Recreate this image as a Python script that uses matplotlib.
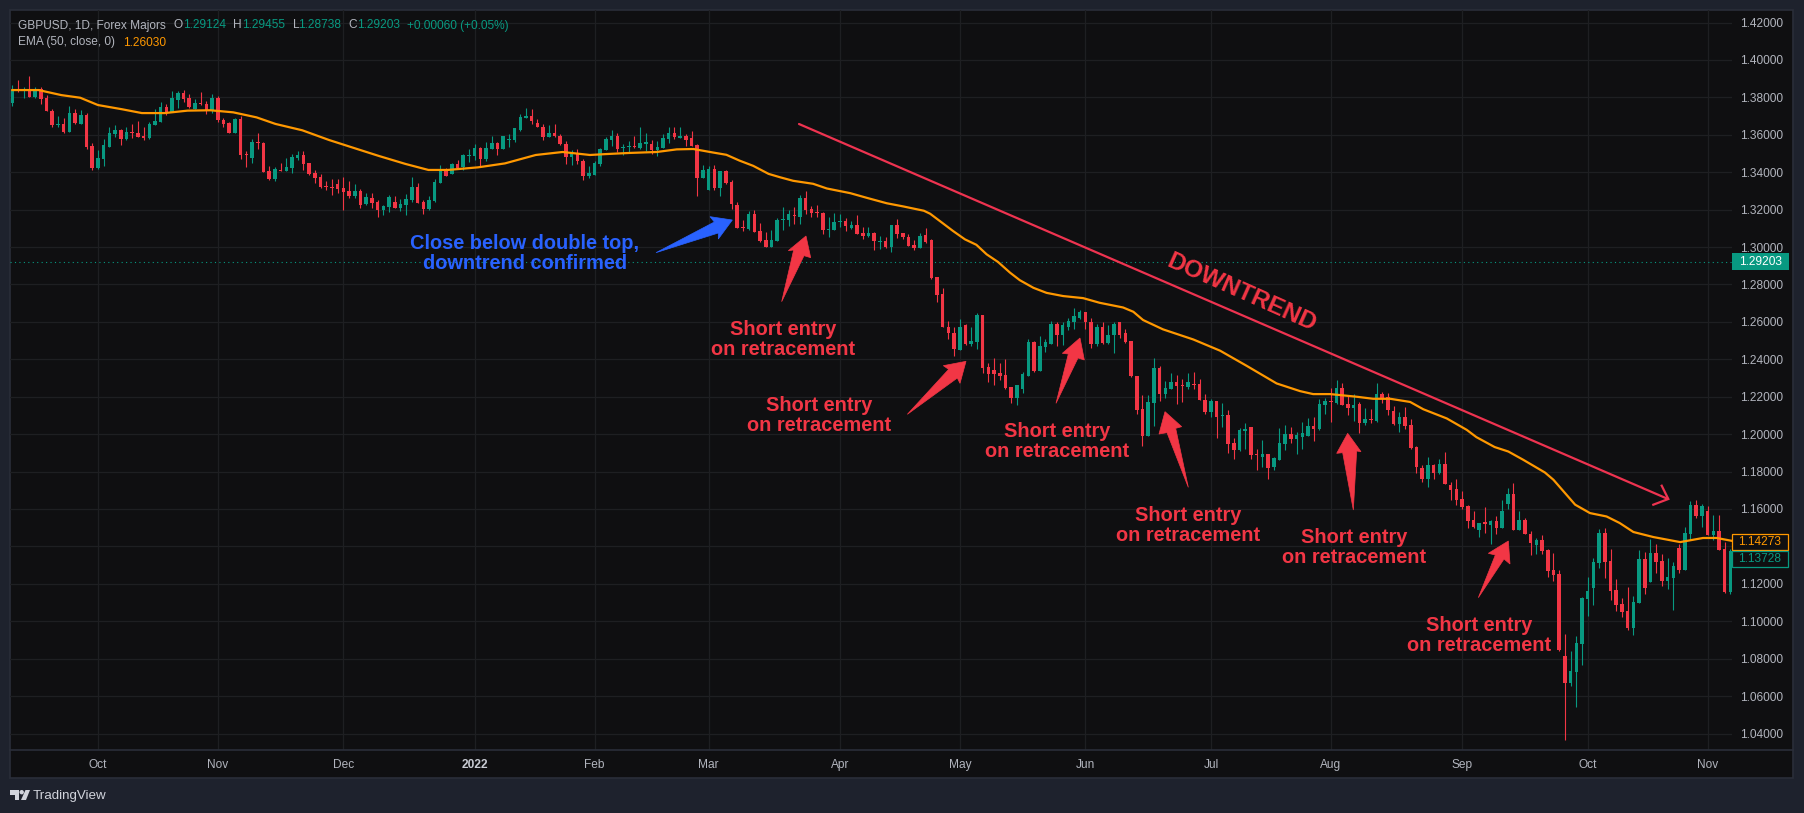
import numpy as np
import matplotlib
matplotlib.use("Agg")
import matplotlib.pyplot as plt
from matplotlib.patches import Polygon, Rectangle, Circle

plt.rcParams['font.family'] = ['Liberation Sans', 'DejaVu Sans']

# GBPUSD daily candles
opens = [
    1.3770,1.3845,1.3839,1.3841,1.3804,1.3845,1.3798,1.3729,1.3654,1.3659,
    1.3617,1.3718,1.3659,1.3707,1.3542,1.3424,1.3472,1.3537,1.3606,1.3627,
    1.3579,1.3617,1.3611,1.3595,1.3585,1.3654,1.3670,1.3750,1.3723,1.3788,
    1.3825,1.3798,1.3739,1.3772,1.3766,1.3734,1.3798,1.3677,1.3661,1.3607,
    1.3682,1.3495,1.3474,1.3559,1.3554,1.3404,1.3361,1.3410,1.3404,1.3420,
    1.3474,1.3490,1.3447,1.3394,1.3372,1.3324,1.3319,1.3335,1.3313,1.3297,
    1.3271,1.3297,1.3228,1.3260,1.3239,1.3196,1.3212,1.3239,1.3207,1.3223,
    1.3249,1.3319,1.3239,1.3201,1.3246,1.3342,1.3405,1.3389,1.3442,1.3427,
    1.3485,1.3485,1.3527,1.3469,1.3522,1.3554,1.3522,1.3570,1.3570,1.3628,
    1.3692,1.3703,1.3665,1.3644,1.3586,1.3612,1.3596,1.3549,1.3480,1.3496,
    1.3458,1.3379,1.3384,1.3442,1.3517,1.3570,1.3596,1.3527,1.3533,1.3538,
    1.3527,1.3549,1.3549,1.3517,1.3527,1.3575,1.3612,1.3581,1.3596,1.3581,
    1.3546,1.3370,1.3306,1.3418,1.3316,1.3407,1.3348,1.3226,1.3108,1.3097,
    1.3178,1.3087,1.3039,1.3001,1.3033,1.3145,1.3145,1.3172,1.3161,1.3263,
    1.3204,1.3188,1.3183,1.3092,1.3092,1.3135,1.3140,1.3103,1.3119,1.3076,
    1.3060,1.3076,1.3028,1.3033,1.3001,1.3119,1.3076,1.3055,1.3012,1.2996,
    1.3065,1.3036,1.2838,1.2747,1.2575,1.2543,1.2452,1.2581,1.2484,1.2495,
    1.2639,1.2361,1.2345,1.2329,1.2318,1.2254,1.2195,1.2243,1.2313,1.2495,
    1.2340,1.2468,1.2484,1.2591,1.2532,1.2575,1.2597,1.2623,1.2655,1.2602,
    1.2484,1.2575,1.2489,1.2532,1.2597,1.2538,1.2500,1.2313,1.2135,1.1990,
    1.2167,1.2355,1.2215,1.2242,1.2280,1.2263,1.2253,1.2269,1.2269,1.2183,
    1.2118,1.2178,1.2097,1.2102,1.1952,1.1914,1.2016,1.2038,1.1893,1.1877,
    1.1893,1.1823,1.1861,1.1947,1.2000,1.1974,1.1984,1.1990,1.2043,1.2027,
    1.2156,1.2175,1.2165,1.2244,1.2159,1.2138,1.2159,1.2058,1.2080,1.2069,
    1.2212,1.2196,1.2122,1.2053,1.2090,1.2048,1.1931,1.1819,1.1761,1.1835,
    1.1793,1.1841,1.1729,1.1708,1.1655,1.1618,1.1543,1.1485,1.1527,1.1517,
    1.1538,1.1501,1.1628,1.1681,1.1490,1.1543,1.1468,1.1409,1.1436,1.1382,
    1.1275,1.1254,1.0815,1.0670,1.0729,1.0879,1.1120,1.1179,1.1313,1.1473,
    1.1323,1.1168,1.1093,1.1056,1.0965,1.1098,1.1334,1.1211,1.1366,1.1323,
    1.1216,1.1232,1.1393,1.1275,1.1468,1.1623,1.1564,1.1591,1.1463,1.1484,
    1.1388,1.1157,
]
highs = [
    1.3868,1.3894,1.3855,1.3916,1.3855,1.3855,1.3814,1.3738,1.3699,1.3691,
    1.3755,1.3736,1.3734,1.3718,1.3558,1.3521,1.3579,1.3643,1.3654,1.3631,
    1.3643,1.3659,1.3675,1.3643,1.3670,1.3739,1.3777,1.3766,1.3836,1.3836,
    1.3841,1.3820,1.3793,1.3830,1.3782,1.3820,1.3809,1.3691,1.3666,1.3691,
    1.3698,1.3511,1.3580,1.3607,1.3559,1.3431,1.3426,1.3447,1.3474,1.3495,
    1.3511,1.3511,1.3447,1.3410,1.3388,1.3351,1.3361,1.3361,1.3372,1.3351,
    1.3335,1.3308,1.3287,1.3287,1.3249,1.3223,1.3276,1.3271,1.3255,1.3281,
    1.3372,1.3340,1.3249,1.3271,1.3363,1.3437,1.3421,1.3448,1.3464,1.3496,
    1.3522,1.3549,1.3533,1.3559,1.3596,1.3559,1.3596,1.3602,1.3634,1.3713,
    1.3745,1.3740,1.3687,1.3660,1.3650,1.3660,1.3602,1.3565,1.3517,1.3522,
    1.3469,1.3432,1.3458,1.3527,1.3586,1.3628,1.3612,1.3549,1.3565,1.3591,
    1.3644,1.3607,1.3570,1.3565,1.3602,1.3639,1.3644,1.3639,1.3602,1.3618,
    1.3551,1.3439,1.3434,1.3439,1.3407,1.3412,1.3359,1.3242,1.3145,1.3194,
    1.3199,1.3129,1.3081,1.3092,1.3156,1.3215,1.3199,1.3215,1.3279,1.3300,
    1.3220,1.3226,1.3188,1.3161,1.3183,1.3178,1.3156,1.3140,1.3172,1.3108,
    1.3108,1.3081,1.3060,1.3055,1.3119,1.3151,1.3076,1.3071,1.3039,1.3076,
    1.3103,1.3041,1.2838,1.2779,1.2607,1.2575,1.2618,1.2586,1.2570,1.2645,
    1.2639,1.2382,1.2409,1.2382,1.2404,1.2254,1.2265,1.2334,1.2506,1.2500,
    1.2527,1.2506,1.2607,1.2602,1.2597,1.2623,1.2672,1.2666,1.2655,1.2623,
    1.2591,1.2597,1.2581,1.2602,1.2602,1.2564,1.2500,1.2313,1.2210,1.2210,
    1.2408,1.2366,1.2285,1.2328,1.2317,1.2296,1.2328,1.2333,1.2296,1.2215,
    1.2188,1.2178,1.2167,1.2129,1.1979,1.2033,1.2059,1.2038,1.1920,1.1968,
    1.1893,1.1877,1.2033,1.2049,1.2038,1.2011,1.2065,1.2086,1.2092,1.2188,
    1.2194,1.2244,1.2292,1.2276,1.2207,1.2212,1.2170,1.2138,1.2133,1.2276,
    1.2223,1.2218,1.2149,1.2117,1.2143,1.2080,1.1936,1.1835,1.1878,1.1841,
    1.1867,1.1904,1.1745,1.1761,1.1697,1.1623,1.1591,1.1527,1.1612,1.1543,
    1.1565,1.1650,1.1713,1.1740,1.1591,1.1554,1.1482,1.1446,1.1463,1.1388,
    1.1366,1.1275,1.0932,1.0841,1.0922,1.1131,1.1238,1.1339,1.1495,1.1500,
    1.1388,1.1227,1.1125,1.1184,1.1136,1.1382,1.1372,1.1441,1.1414,1.1361,
    1.1339,1.1318,1.1414,1.1505,1.1645,1.1650,1.1629,1.1618,1.1570,1.1570,
    1.1425,1.1388,
]
lows = [
    1.3755,1.3828,1.3798,1.3804,1.3798,1.3766,1.3729,1.3643,1.3643,1.3611,
    1.3617,1.3659,1.3659,1.3526,1.3414,1.3419,1.3435,1.3537,1.3590,1.3547,
    1.3574,1.3585,1.3590,1.3574,1.3579,1.3654,1.3670,1.3707,1.3723,1.3745,
    1.3777,1.3745,1.3739,1.3761,1.3713,1.3718,1.3670,1.3641,1.3607,1.3607,
    1.3468,1.3426,1.3447,1.3522,1.3399,1.3356,1.3351,1.3404,1.3404,1.3394,
    1.3463,1.3410,1.3383,1.3340,1.3313,1.3303,1.3276,1.3287,1.3196,1.3260,
    1.3260,1.3207,1.3223,1.3207,1.3159,1.3169,1.3185,1.3207,1.3191,1.3169,
    1.3239,1.3233,1.3175,1.3196,1.3241,1.3342,1.3379,1.3389,1.3416,1.3411,
    1.3453,1.3464,1.3432,1.3458,1.3522,1.3490,1.3522,1.3533,1.3559,1.3618,
    1.3692,1.3655,1.3639,1.3570,1.3586,1.3586,1.3543,1.3442,1.3437,1.3442,
    1.3358,1.3368,1.3384,1.3432,1.3517,1.3538,1.3506,1.3490,1.3506,1.3527,
    1.3522,1.3512,1.3496,1.3485,1.3527,1.3554,1.3575,1.3581,1.3538,1.3538,
    1.3274,1.3370,1.3306,1.3306,1.3274,1.3338,1.3204,1.3103,1.3087,1.3092,
    1.3081,1.3028,1.3001,1.3001,1.3033,1.3092,1.3113,1.3124,1.3124,1.3178,
    1.3161,1.3161,1.3071,1.3055,1.3092,1.3108,1.3087,1.3097,1.3071,1.3044,
    1.3055,1.2985,1.2991,1.2996,1.2975,1.3049,1.3044,1.3007,1.2985,1.2996,
    1.3023,1.2827,1.2704,1.2570,1.2506,1.2415,1.2452,1.2479,1.2473,1.2457,
    1.2329,1.2281,1.2265,1.2291,1.2243,1.2168,1.2157,1.2222,1.2313,1.2334,
    1.2340,1.2441,1.2484,1.2473,1.2479,1.2554,1.2564,1.2618,1.2564,1.2463,
    1.2473,1.2484,1.2484,1.2436,1.2516,1.2489,1.2307,1.2109,1.1936,1.1990,
    1.2043,1.2178,1.2194,1.2242,1.2161,1.2172,1.2242,1.2242,1.2183,1.2108,
    1.2092,1.1979,1.2038,1.1898,1.1866,1.1909,1.1920,1.1866,1.1807,1.1823,
    1.1759,1.1807,1.1861,1.1914,1.1952,1.1893,1.1920,1.1990,1.1963,1.2022,
    1.2108,1.2064,1.2159,1.2154,1.2101,1.2069,1.2005,1.2048,1.2058,1.2064,
    1.2165,1.2101,1.2048,1.2011,1.2027,1.1920,1.1793,1.1745,1.1719,1.1761,
    1.1788,1.1734,1.1650,1.1623,1.1602,1.1501,1.1501,1.1448,1.1474,1.1411,
    1.1464,1.1501,1.1602,1.1490,1.1485,1.1464,1.1355,1.1361,1.1361,1.1238,
    1.1216,1.0841,1.0365,1.0654,1.0542,1.0766,1.1029,1.1088,1.1286,1.1232,
    1.1114,1.1056,1.1023,1.0954,1.0927,1.1098,1.1147,1.1211,1.1259,1.1189,
    1.1173,1.1061,1.1259,1.1275,1.1436,1.1554,1.1505,1.1463,1.1436,1.1382,
    1.1152,1.1147,
]
closes = [
    1.3837,1.3832,1.3841,1.3804,1.3846,1.3793,1.3729,1.3654,1.3659,1.3617,
    1.3718,1.3663,1.3707,1.3535,1.3424,1.3478,1.3547,1.3611,1.3627,1.3579,
    1.3617,1.3611,1.3590,1.3585,1.3659,1.3675,1.3750,1.3718,1.3798,1.3825,
    1.3793,1.3750,1.3772,1.3766,1.3734,1.3798,1.3681,1.3655,1.3607,1.3682,
    1.3490,1.3490,1.3559,1.3554,1.3399,1.3361,1.3415,1.3404,1.3426,1.3479,
    1.3490,1.3442,1.3388,1.3367,1.3319,1.3319,1.3313,1.3308,1.3292,1.3271,
    1.3297,1.3223,1.3265,1.3233,1.3196,1.3217,1.3265,1.3207,1.3228,1.3255,
    1.3319,1.3233,1.3201,1.3249,1.3347,1.3411,1.3379,1.3442,1.3421,1.3490,
    1.3490,1.3527,1.3469,1.3527,1.3554,1.3522,1.3591,1.3575,1.3634,1.3697,
    1.3703,1.3671,1.3639,1.3586,1.3612,1.3591,1.3549,1.3480,1.3496,1.3458,
    1.3379,1.3395,1.3448,1.3522,1.3575,1.3596,1.3522,1.3533,1.3538,1.3533,
    1.3554,1.3559,1.3517,1.3533,1.3581,1.3612,1.3586,1.3596,1.3570,1.3538,
    1.3370,1.3412,1.3418,1.3316,1.3407,1.3343,1.3231,1.3103,1.3103,1.3178,
    1.3081,1.3033,1.3001,1.3039,1.3145,1.3151,1.3178,1.3167,1.3263,1.3199,
    1.3183,1.3183,1.3092,1.3097,1.3135,1.3140,1.3113,1.3119,1.3071,1.3060,
    1.3076,1.3033,1.3033,1.3001,1.3119,1.3071,1.3055,1.3007,1.2996,1.3060,
    1.3028,1.2832,1.2741,1.2570,1.2538,1.2457,1.2575,1.2484,1.2500,1.2639,
    1.2356,1.2323,1.2323,1.2313,1.2249,1.2195,1.2265,1.2323,1.2495,1.2340,
    1.2473,1.2495,1.2591,1.2532,1.2581,1.2607,1.2629,1.2655,1.2597,1.2484,
    1.2575,1.2489,1.2532,1.2591,1.2532,1.2495,1.2313,1.2131,1.1990,1.2172,
    1.2355,1.2215,1.2247,1.2280,1.2258,1.2258,1.2280,1.2263,1.2183,1.2118,
    1.2178,1.2092,1.2102,1.1947,1.1914,1.2022,1.2027,1.1888,1.1888,1.1893,
    1.1818,1.1871,1.1952,1.2000,1.1974,1.1995,1.2006,1.2043,1.2027,1.2161,
    1.2178,1.2170,1.2244,1.2154,1.2138,1.2154,1.2058,1.2080,1.2074,1.2212,
    1.2186,1.2127,1.2053,1.2090,1.2042,1.1926,1.1825,1.1761,1.1835,1.1793,
    1.1841,1.1734,1.1703,1.1650,1.1612,1.1538,1.1506,1.1527,1.1522,1.1538,
    1.1501,1.1591,1.1681,1.1490,1.1543,1.1464,1.1420,1.1436,1.1377,1.1270,
    1.1248,1.0847,1.0670,1.0734,1.0884,1.1125,1.1163,1.1318,1.1473,1.1318,
    1.1163,1.1088,1.1050,1.0965,1.1104,1.1334,1.1179,1.1366,1.1318,1.1216,
    1.1238,1.1297,1.1275,1.1473,1.1623,1.1564,1.1618,1.1463,1.1484,1.1382,
    1.1157,1.1377,
]

# EMA 50 read at intervals along the orange line
ema_bars = [
    0, 4.6, 8.6, 11.9, 15, 19.3, 22.7, 26.7, 30.7, 34.7, 38.7, 42.8, 46.1, 50.8,
    55.5, 60.2, 64.2, 68.9, 72.9, 76.3, 81.6, 86.3, 91.7, 96.4, 101.2, 104.1,
    108.2, 112.9, 116.4, 119.3, 122.8, 125.1, 127.4, 129.8, 132.5, 134.5, 136.8,
    140.3, 142.7, 146.8, 149.7, 153.2, 156.1, 159.7, 160.8, 162.5, 164.8, 166.9,
    168.9, 170.7, 172.7, 174.8, 176.5, 178.9, 181.2, 184.1, 187.6, 190.5, 194.6,
    196.4, 198.1, 201.6, 206.9, 211.6, 216.2, 221.5, 225.6, 227.9, 230.9, 235.5,
    238.4, 241.4, 244.9, 247.2, 251.3, 254.8, 256.5, 259.7, 262.1, 264.7, 268.5,
    270, 273.8, 276.4, 279.3, 281.6, 284, 287.5, 292.2, 296.2, 298.6, 301.2,
]
ema_values = [
    1.3839, 1.3839, 1.3812, 1.3798, 1.3759, 1.3736, 1.3716, 1.3716, 1.3729, 1.3731,
    1.3720, 1.3693, 1.3658, 1.3624, 1.3572, 1.3526, 1.3487, 1.3444, 1.3412, 1.3412,
    1.3426, 1.3447, 1.3492, 1.3508, 1.3492, 1.3497, 1.3503, 1.3508, 1.3522, 1.3524,
    1.3505, 1.3493, 1.3462, 1.3434, 1.3391, 1.3373, 1.3354, 1.3338, 1.3313, 1.3288,
    1.3263, 1.3234, 1.3217, 1.3194, 1.3178, 1.3139, 1.3086, 1.3041, 1.3012, 1.2961,
    1.2920, 1.2863, 1.2823, 1.2782, 1.2755, 1.2738, 1.2727, 1.2702, 1.2677, 1.2654,
    1.2610, 1.2560, 1.2506, 1.2446, 1.2366, 1.2271, 1.2230, 1.2214, 1.2214, 1.2200,
    1.2189, 1.2189, 1.2172, 1.2133, 1.2084, 1.2023, 1.1984, 1.1931, 1.1907, 1.1863,
    1.1795, 1.1756, 1.1623, 1.1578, 1.1560, 1.1525, 1.1477, 1.1450, 1.1423, 1.1445,
    1.1445, 1.1430,
]

price_ticks = [1.04, 1.06, 1.08, 1.10, 1.12, 1.14, 1.16, 1.18, 1.20, 1.22,
               1.24, 1.26, 1.28, 1.30, 1.32, 1.34, 1.36, 1.38, 1.40, 1.42]
month_bars = [15, 36, 58, 81, 102, 122, 145, 166, 188, 210, 231, 254, 276, 297]
month_labels = ['Oct', 'Nov', 'Dec', '2022', 'Feb', 'Mar', 'Apr', 'May', 'Jun',
                'Jul', 'Aug', 'Sep', 'Oct', 'Nov']

last_price = 1.29203
ema_last = 1.14273
close_last = 1.13728

# colours
PAGE = '#1e222d'
PANEL = '#0f0f11'
BORDER = '#2a2e39'
GRID = '#1e1f22'
UP = '#089981'
DOWN = '#f23645'
EMA = '#ff9800'
BLUE = '#2962ff'
AXTEXT = '#b2b5be'

W, H = 1804, 813
fig = plt.figure(figsize=(W / 100, H / 100), dpi=100, facecolor=PAGE)

# panel behind everything, pixel coordinates
bg = fig.add_axes([0, 0, 1, 1], zorder=0)
bg.set_xlim(0, W)
bg.set_ylim(H, 0)
bg.axis('off')
bg.add_patch(Rectangle((10, 10), 1783, 768, fc=PANEL, ec=BORDER, lw=1.2))

ax = fig.add_axes([10 / W, (H - 750) / H, 1722 / W, 740 / H], zorder=1)
ax.patch.set_alpha(0)
ax.set_xlim(-0.403, 301.28)
ax.set_ylim(1.04 - 16.5 / 1871, 1.04 + 723.5 / 1871)
for s in ax.spines.values():
    s.set_visible(False)

# 1.14000 sits under the EMA price tag in the original, so no label there
ax.set_yticks(price_ticks)
ax.set_yticklabels(['' if p == 1.14 else f'{p:.5f}' for p in price_ticks], fontsize=8.6, color=AXTEXT)
ax.yaxis.tick_right()
ax.set_xticks(month_bars)
ax.set_xticklabels(month_labels, fontsize=8.6, color=AXTEXT)
ax.get_xticklabels()[3].set_fontweight('bold')
ax.get_xticklabels()[3].set_color('#c8cbd3')
ax.tick_params(axis='both', length=0)
ax.tick_params(axis='y', pad=5.8)
ax.tick_params(axis='x', pad=6.4)
ax.grid(True, color=GRID, lw=0.9)
ax.set_axisbelow(True)

# candles
bars = np.arange(len(opens))
o = np.array(opens)
h = np.array(highs)
l = np.array(lows)
c = np.array(closes)
up = c >= o
colors = np.where(up, UP, DOWN)
ax.vlines(bars, l, h, colors=colors, lw=0.8, zorder=3)
heights = np.maximum(np.abs(c - o), 0.0006)
ax.bar(bars, heights, bottom=np.minimum(o, c), width=0.62, color=colors, lw=0, zorder=3)

ax.plot(ema_bars, ema_values, color=EMA, lw=1.6, zorder=4, solid_joinstyle='round')
ax.axhline(last_price, color=UP, lw=0.8, ls=(0, (1, 3)), zorder=2)

# everything drawn on top of the chart, pixel coordinates again
top = fig.add_axes([0, 0, 1, 1], zorder=2)
top.set_xlim(0, W)
top.set_ylim(H, 0)
top.axis('off')
top.plot([10, 1793], [750, 750], color=BORDER, lw=1.2)


def price_y(p):
    return 733.5 - (p - 1.04) * 1871


# price labels on the right
top.add_patch(Rectangle((1732, price_y(last_price) - 8.5), 57, 17, fc=UP, ec='none'))
top.text(1760.5, price_y(last_price), f'{last_price:.5f}', color='white', fontsize=8.6,
         ha='center', va='center')
top.add_patch(Rectangle((1732, 533.5), 56, 16, fc=PANEL, ec=EMA, lw=0.9))
top.text(1760, 541.5, f'{ema_last:.5f}', color=EMA, fontsize=8.6, ha='center', va='center')
top.add_patch(Rectangle((1732, 551), 56, 16, fc=PANEL, ec=UP, lw=0.9))
top.text(1760, 559, f'{close_last:.5f}', color=UP, fontsize=8.6, ha='center', va='center')

# header legend
head = [(18, 'GBPUSD, 1D, Forex Majors', AXTEXT), (174, 'O', AXTEXT), (183.5, '1.29124', UP),
        (233.5, 'H', AXTEXT), (242.5, '1.29455', UP), (292.5, 'L', AXTEXT), (298.5, '1.28738', UP),
        (348.5, 'C', AXTEXT), (357.5, '1.29203', UP), (407, '+0.00060 (+0.05%)', UP)]
for x, txt, col in head:
    top.text(x, 25.5, txt, color=col, fontsize=8.6, va='center', ha='left')
top.text(18, 42.5, 'EMA (50, close, 0)', color=AXTEXT, fontsize=8.6, va='center', ha='left')
top.text(123.5, 42.5, '1.26030', color=EMA, fontsize=8.6, va='center', ha='left')

# trend line with open arrow head
top.plot([799, 1668], [124, 499], color='#ee3350', lw=1.6, solid_capstyle='round')
top.plot([1661.7, 1668.3, 1653.3], [485.7, 499, 504.7], color='#ee3350', lw=1.6,
         solid_joinstyle='miter')
top.text(1241.5, 293, 'DOWNTREND', color=DOWN, fontsize=17.6, fontweight='bold',
         rotation=-24, rotation_mode='anchor', ha='center', va='center')


def arrow(pts, col, ox, oy):
    # points were read in 3x zoom crops
    xy = [(ox + x / 3, oy + y / 3) for x, y in pts]
    top.add_patch(Polygon(xy, closed=True, fc=col, ec=col, lw=0.5))


arrow([(168, 458), (343, 366), (330, 350), (397, 360), (355, 417), (355, 399)], BLUE, 600, 100)
arrow([(545, 605), (581, 450), (565, 452), (618, 408), (632, 473), (612, 467)], DOWN, 600, 100)
arrow([(922, 943), (1046, 808), (1030, 797), (1098, 784), (1080, 850), (1072, 834)], DOWN, 600, 100)
arrow([(1368, 910), (1405, 762), (1387, 760), (1440, 714), (1453, 780), (1434, 774)], DOWN, 600, 100)
arrow([(325, 622), (261, 458), (237, 462), (255, 395), (305, 440), (287, 445)], DOWN, 1080, 280)
arrow([(820, 690), (788, 518), (770, 520), (803, 460), (843, 515), (830, 513)], DOWN, 1080, 280)
arrow([(175, 503), (226, 375), (205, 370), (265, 333), (270, 402), (252, 387)], DOWN, 1420, 430)

top.text(525, 243.5, 'Close below double top,', color=BLUE, fontsize=14.45, fontweight='bold',
         ha='center', va='center')
top.text(525, 263.5, 'downtrend confirmed', color=BLUE, fontsize=14.45, fontweight='bold',
         ha='center', va='center')

entry_x = [783, 819, 1057, 1188, 1354, 1479]
entry_y = [329, 405, 431.5, 515, 537, 625]
for x, y in zip(entry_x, entry_y):
    top.text(x, y, 'Short entry', color=DOWN, fontsize=14.4, fontweight='bold', ha='center', va='center')
    top.text(x, y + 20, 'on retracement', color=DOWN, fontsize=14.4, fontweight='bold', ha='center', va='center')

# TradingView mark at the bottom
top.add_patch(Polygon([(10, 790), (19, 790), (19, 800), (14.5, 800), (14.5, 794.5), (10, 794.5)],
                      closed=True, fc='#d1d4dc', ec='none'))
top.add_patch(Circle((21.7, 792.2), 2.2, fc='#d1d4dc', ec='none'))
top.add_patch(Polygon([(25.5, 790), (30, 790), (26, 800), (21, 800)], closed=True, fc='#d1d4dc', ec='none'))
top.text(33, 795.5, 'TradingView', color='#d1d4dc', fontsize=9.6, va='center', ha='left')

fig.savefig('out.png', dpi=100, facecolor=PAGE)
